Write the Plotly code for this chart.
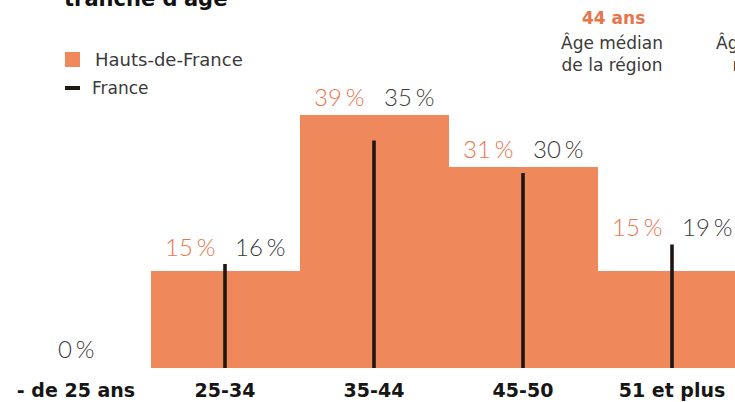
import plotly.graph_objects as go

# Age brackets and shares (%)
categories = ["- de 25 ans", "25-34", "35-44", "45-50", "51 et plus"]
region_pct = [0, 15, 39, 31, 15]      # Hauts-de-France
france_pct = [0, 16, 35, 30, 19]      # France

region_label = "Hauts-de-France"
france_label = "France"
median_region = "44 ans"
median_france = "42 ans"

ORANGE = "#EF895B"
ORANGE_TXT = "#E8744A"
DARK = "#1E1716"
GREY = "#3A3A3A"

W, H = 735, 402
PLOT_BOTTOM = 368          # pixel row of the baseline
PX_PER_PCT = 6.5

fig = go.Figure()

# Regional shares as touching bars
fig.add_trace(go.Bar(
    x=categories, y=region_pct, marker=dict(color=ORANGE, line=dict(width=0)),
    name=region_label, showlegend=False, hoverinfo="x+y",
))

# National shares as thin vertical strokes at each bracket centre
fx, fy = [], []
for c, v in zip(categories, france_pct):
    if v > 0:
        fx += [c, c, None]
        fy += [0, v, None]
fig.add_trace(go.Scatter(
    x=fx, y=fy, mode="lines", line=dict(color=DARK, width=3.6),
    name=france_label, showlegend=False, hoverinfo="skip",
))


def pct(v):
    return f"{v}<span style='font-size:14px'> </span>%"


ann = []
pct_font = dict(family="Lato", size=24, weight=300)
for i, (r, f) in enumerate(zip(region_pct, france_pct)):
    top = max(r, f)
    if r == 0 and f == 0:
        ann.append(dict(x=i, y=0, xref="x", yref="y", text=pct(0), showarrow=False,
                        xanchor="center", yanchor="middle", yshift=20,
                        font=dict(color=GREY, **pct_font)))
        continue
    ann.append(dict(x=i, y=top, xref="x", yref="y", text=pct(r), showarrow=False,
                    xanchor="right", yanchor="middle", xshift=-8, yshift=18,
                    font=dict(color=ORANGE_TXT, **pct_font)))
    ann.append(dict(x=i, y=top, xref="x", yref="y", text=pct(f), showarrow=False,
                    xanchor="left", yanchor="middle", xshift=8, yshift=18,
                    font=dict(color=GREY, **pct_font)))


def px(xp):
    return xp / W


def py(yp):
    return (PLOT_BOTTOM - yp) / PLOT_BOTTOM


# Heading (continues above the visible area)
ann.append(dict(x=px(62), y=py(-1), xref="paper", yref="paper", text="<b>tranche d'âge</b>",
                showarrow=False, xanchor="left", yanchor="middle",
                font=dict(family="DejaVu Sans", size=21, color="#111111")))

# Legend
ann.append(dict(x=px(93), y=py(59), xref="paper", yref="paper", text=region_label,
                showarrow=False, xanchor="left", yanchor="middle",
                font=dict(family="DejaVu Sans", size=18, color=GREY)))
ann.append(dict(x=px(90), y=py(88), xref="paper", yref="paper", text=france_label,
                showarrow=False, xanchor="left", yanchor="middle",
                font=dict(family="DejaVu Sans", size=17, color=GREY)))
shapes = [
    dict(type="rect", xref="paper", yref="paper", x0=px(65), x1=px(80), y0=py(67), y1=py(52),
         fillcolor=ORANGE, line=dict(width=0)),
    dict(type="rect", xref="paper", yref="paper", x0=px(65), x1=px(80), y0=py(90), y1=py(86),
         fillcolor=DARK, line=dict(width=0)),
]

# Median age blocks
for cx, val, col in [(613, median_region, ORANGE_TXT), (767, median_france, GREY)]:
    ann.append(dict(x=px(cx), y=py(18), xref="paper", yref="paper", text=f"<b>{val}</b>",
                    showarrow=False, xanchor="center", yanchor="middle",
                    font=dict(family="DejaVu Sans", size=17, color=col)))
ann.append(dict(x=px(612), y=py(53), xref="paper", yref="paper",
                text="Âge médian<br>de la région", showarrow=False, xanchor="center",
                yanchor="middle", font=dict(family="DejaVu Sans", size=17, color=GREY)))
ann.append(dict(x=px(767), y=py(53), xref="paper", yref="paper",
                text="Âge médian<br>national", showarrow=False, xanchor="center",
                yanchor="middle", font=dict(family="DejaVu Sans", size=17, color=GREY)))

x0 = -76 / 149
x1 = (W - 76) / 149
fig.update_layout(
    width=W, height=H, margin=dict(l=0, r=0, t=0, b=H - PLOT_BOTTOM),
    paper_bgcolor="white", plot_bgcolor="white",
    bargap=0, showlegend=False,
    xaxis=dict(type="category", range=[x0, x1], showgrid=False, zeroline=False, showline=False,
               ticks="", ticklabelstandoff=9,
               tickfont=dict(family="DejaVu Sans", size=19, color="#161616", weight="bold")),
    yaxis=dict(range=[0, PLOT_BOTTOM / PX_PER_PCT], visible=False, fixedrange=True),
    annotations=ann, shapes=shapes,
)

fig.write_html("out.html")
